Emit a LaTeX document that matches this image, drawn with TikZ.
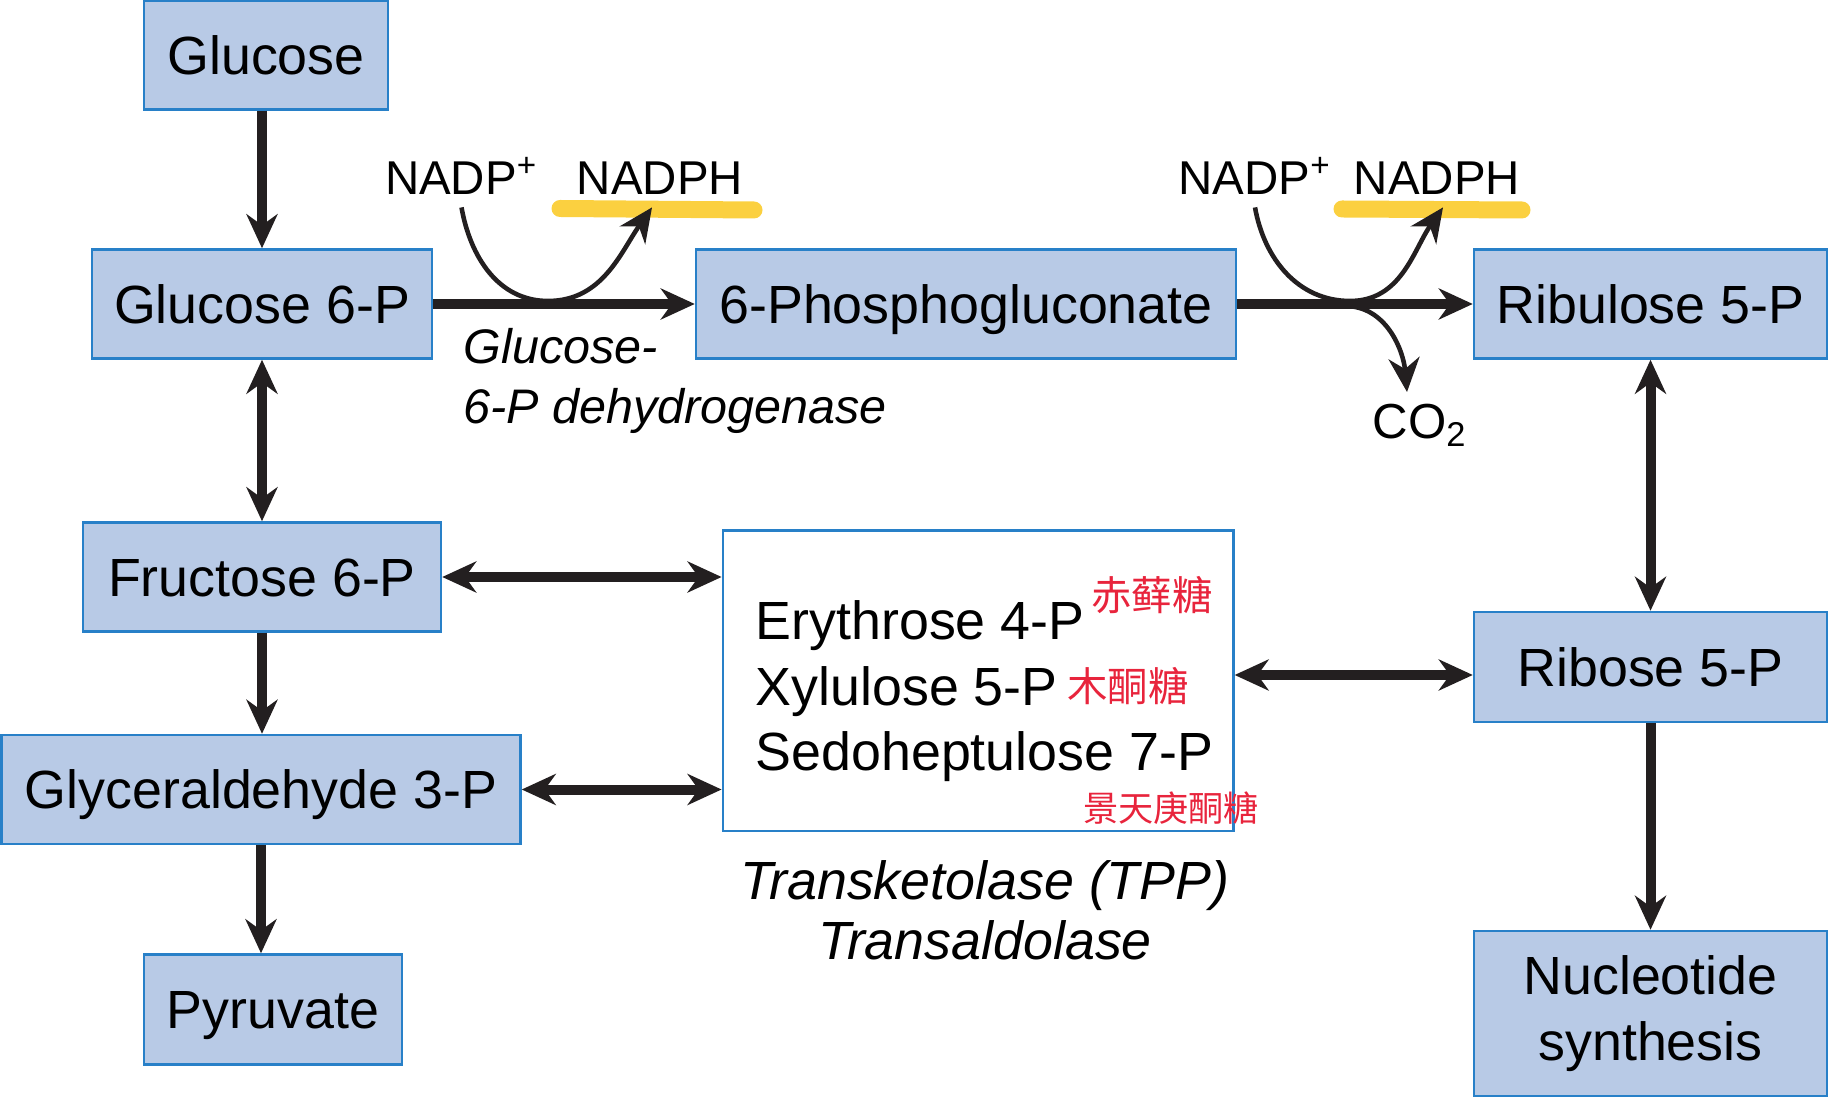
\documentclass[tikz,border=0pt]{standalone}
\usepackage{fontspec}
\setmainfont{Liberation Sans}
\newfontfamily\cjk{Noto Sans CJK SC}
\usetikzlibrary{arrows.meta}
\definecolor{boxfill}{RGB}{184,202,230}
\definecolor{boxline}{RGB}{40,128,200}
\definecolor{ink}{RGB}{35,31,32}
\definecolor{pen}{RGB}{232,36,60}
\definecolor{marker}{RGB}{250,200,30}
\begin{document}
\begin{tikzpicture}[
        met/.style={draw=boxline,fill=boxfill,line width=0.7pt,minimum height=1.09cm,inner sep=0pt,text height=13.9pt,text depth=3pt,font=\fontsize{15.3}{18.6}\selectfont},
        arr/.style={ink,line width=0.1cm,-{Stealth[length=3.4mm,width=3.1mm,inset=1.1mm]}},
        dbl/.style={arr,{Stealth[length=3.4mm,width=3.1mm,inset=1.1mm]}-{Stealth[length=3.4mm,width=3.1mm,inset=1.1mm]}},
        bent/.style={ink,line width=1.3pt,-{Stealth[length=3.4mm,width=3.1mm,inset=1.1mm]}},
        cof/.style={anchor=base,font=\fontsize{13.5}{16}\selectfont},
        note/.style={text=pen,inner sep=0pt,font=\cjk\fontsize{11.5}{12}\selectfont},
        hl/.style={marker,line width=0.17cm,line cap=round,opacity=0.85}]
        \useasboundingbox(0,0)rectangle(18.28,-10.98);
        \draw[hl](5.60,-2.085)--(7.54,-2.10);
        \draw[hl](13.42,-2.09)--(15.22,-2.10);
        \node[met,minimum width=2.44cm](glc)at(2.66,-0.55){Glucose};
        \node[met,minimum width=3.40cm](g6p)at(2.62,-3.04){Glucose 6-P};
        \node[met,minimum width=5.40cm](pg)at(9.66,-3.04){6-Phosphogluconate};
        \node[met,minimum width=3.53cm](ru5p)at(16.505,-3.04){Ribulose 5-P};
        \node[met,minimum width=3.58cm](f6p)at(2.62,-5.77){Fructose 6-P};
        \node[met,minimum width=5.19cm](gap)at(2.61,-7.895){Glyceraldehyde 3-P};
        \node[met,minimum width=2.58cm,minimum height=1.10cm](pyr)at(2.73,-10.095){Pyruvate};
        \node[met,minimum width=3.53cm,minimum height=1.10cm](r5p)at(16.505,-6.67){Ribose 5-P};
        \node[met,minimum width=3.53cm,minimum height=1.65cm,align=center,text height=,text depth=](nuc)at(16.505,-10.135){Nucleotide\\synthesis};
        \node[draw=boxline,line width=0.7pt,minimum width=5.106cm,minimum height=3.008cm](tk)at(9.781,-6.808){};
        \node[anchor=west,align=left,inner sep=0pt,font=\fontsize{15.3}{18.6}\selectfont](sug)at(7.55,-6.913){Erythrose 4-P\\Xylulose 5-P\\Sedoheptulose 7-P};
        \node[anchor=west,align=left,inner sep=0pt,font=\itshape\fontsize{13.8}{17}\selectfont](g6pd)at(4.63,-3.807){Glucose-\\6-P dehydrogenase};
        \node[align=center,inner sep=0pt,font=\itshape\fontsize{15.3}{17}\selectfont](enz)at(9.85,-9.105){Transketolase (TPP)\\Transaldolase};
        \node[cof](nadp1)at(4.615,-1.95){NADP\textsuperscript{+}};
        \node[cof](nadph1)at(6.60,-1.95){NADPH};
        \node[cof](nadp2)at(12.55,-1.95){NADP\textsuperscript{+}};
        \node[cof](nadph2)at(14.37,-1.95){NADPH};
        \node[anchor=north,font=\fontsize{14}{16}\selectfont](co2)at(14.2,-3.92){CO\textsubscript{2}};
        \node[note](ery)at(11.52,-5.95){赤藓糖};
        \node[note](xyl)at(11.28,-6.86){木酮糖};
        \node[note,font=\cjk\fontsize{10}{12}\selectfont](sed)at(11.71,-8.08){景天庚酮糖};
        \coordinate(m1)at(5.48,-3.01);
        \coordinate(m2)at(13.5,-3.01);
        \coordinate(m3)at(13.45,-3.06);
        \coordinate(c5)at([yshift=-0.8mm]r5p.west);
        \draw[arr](g6p.north|-glc.south)--(g6p);
        \draw[dbl](g6p)--(f6p);
        \draw[arr](f6p)--(f6p|-gap.north);
        \draw[arr](gap)--(gap|-pyr.north);
        \draw[arr](g6p)--(pg);
        \draw[arr](pg)--(ru5p);
        \draw[dbl](f6p)--(f6p-|tk.west);
        \draw[dbl](gap)--(gap-|tk.west);
        \draw[dbl](c5-|tk.east)--(c5);
        \draw[dbl](ru5p)--(r5p);
        \draw[arr](r5p)--(nuc);
        \draw[bent](nadp1.south)to[out=-80,in=180](m1)to[out=0,in=-125]([xshift=-0.8mm]nadph1.south);
        \draw[bent](nadp2.south)to[out=-80,in=180](m2)to[out=0,in=-125]([xshift=0.6mm]nadph2.south);
        \draw[bent](m3)to[out=0,in=95]([xshift=-1.3mm]co2.north);
    \end{tikzpicture}
\end{document}
